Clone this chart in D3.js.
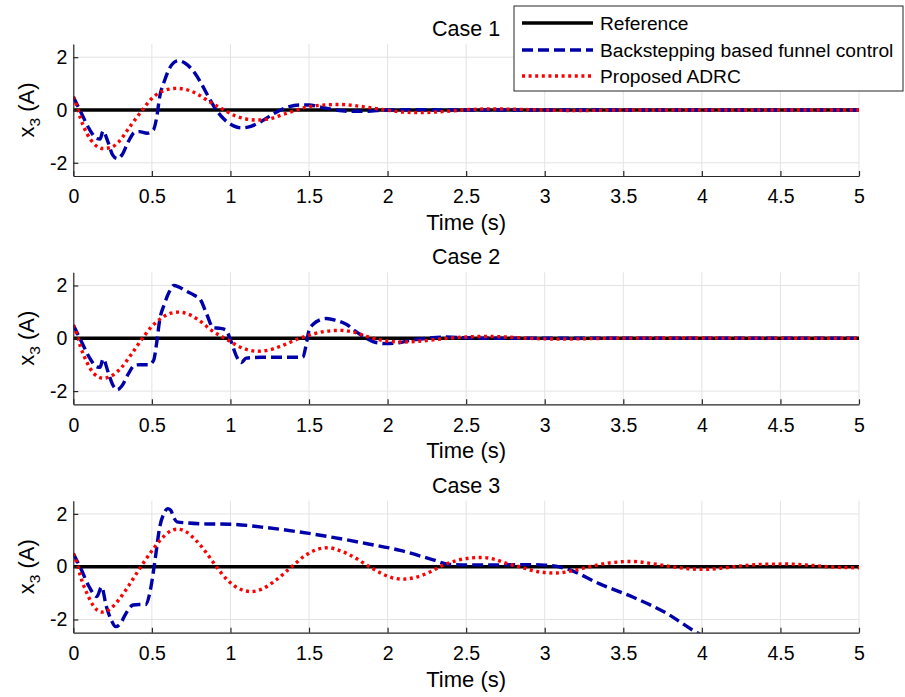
<!DOCTYPE html>
<html>
<head>
<meta charset="utf-8">
<script src="https://cdn.jsdelivr.net/npm/d3@7/dist/d3.min.js"></script>
<style>
  html, body { margin: 0; padding: 0; background: #fff; }
  svg { display: block; font-family: "Liberation Sans", Arial, Helvetica, sans-serif; }
</style>
</head>
<body>
<svg id="chart" width="905" height="697"></svg>
<script>
// x3 current response (A) over time (s) for three test cases
const caseTitles = ["Case 1", "Case 2", "Case 3"];
const seriesNames = ["Reference", "Backstepping based funnel control", "Proposed ADRC"];
const xTicks = [0, 0.5, 1, 1.5, 2, 2.5, 3, 3.5, 4, 4.5, 5];
const xTickLabels = ["0", "0.5", "1", "1.5", "2", "2.5", "3", "3.5", "4", "4.5", "5"];
const yTicks = [-2, 0, 2];
const yTickLabels = ["-2", "0", "2"];

const referenceCurve = [[0, 0], [5, 0]];

const case1Funnel = [
  [0, 0.5], [0.05, -0.1], [0.1, -0.7], [0.15, -1.08], [0.17, -1.1], [0.19, -0.8], [0.22, -1.2],
  [0.25, -1.7], [0.28, -1.84], [0.31, -1.7], [0.35, -1.2], [0.39, -0.85], [0.42, -0.82],
  [0.47, -0.88], [0.51, -0.75], [0.53, -0.3], [0.55, 0.5], [0.58, 1.1], [0.61, 1.55],
  [0.64, 1.8], [0.67, 1.87], [0.71, 1.78], [0.76, 1.5], [0.81, 1.05], [0.86, 0.5], [0.91, 0],
  [0.96, -0.35], [1.02, -0.6], [1.07, -0.68], [1.13, -0.62], [1.2, -0.42], [1.28, -0.12],
  [1.36, 0.1], [1.44, 0.19], [1.5, 0.19], [1.58, 0.1], [1.66, 0.01], [1.75, -0.05],
  [1.85, -0.05], [2.0, 0], [2.2, 0.01], [2.5, 0], [5, 0]
];
const case1Adrc = [
  [0, 0.5], [0.02, 0.2], [0.045, -0.3], [0.087, -0.89], [0.13, -1.27], [0.19, -1.46],
  [0.24, -1.42], [0.29, -1.2], [0.36, -0.63], [0.44, 0], [0.49, 0.38], [0.55, 0.66],
  [0.61, 0.79], [0.66, 0.82], [0.72, 0.77], [0.79, 0.6], [0.87, 0.3], [0.96, 0],
  [1.03, -0.22], [1.1, -0.34], [1.17, -0.38], [1.25, -0.33], [1.33, -0.18], [1.41, -0.02],
  [1.48, 0.1], [1.57, 0.18], [1.7, 0.21], [1.85, 0.12], [1.99, 0], [2.1, -0.08],
  [2.21, -0.1], [2.35, -0.06], [2.5, 0.01], [2.65, 0.04], [2.8, 0.03], [3.0, 0],
  [3.2, -0.02], [3.5, 0], [4, 0], [5, 0]
];

const case2Funnel = [
  [0, 0.5], [0.05, -0.1], [0.1, -0.7], [0.15, -1.08], [0.17, -1.1], [0.19, -0.78], [0.22, -1.25],
  [0.25, -1.75], [0.28, -1.95], [0.31, -1.8], [0.35, -1.35], [0.39, -1.02], [0.43, -1.0],
  [0.48, -1.0], [0.51, -0.85], [0.53, -0.2], [0.55, 0.7], [0.58, 1.3], [0.61, 1.75],
  [0.64, 2.0], [0.67, 1.95], [0.72, 1.78], [0.77, 1.63], [0.81, 1.45], [0.85, 0.9],
  [0.89, 0.4], [0.93, 0.38], [0.97, 0.32], [1.0, -0.05], [1.04, -0.7], [1.07, -0.92],
  [1.1, -0.75], [1.2, -0.72], [1.35, -0.72], [1.46, -0.72], [1.48, -0.3], [1.5, 0.3],
  [1.53, 0.55], [1.57, 0.7], [1.61, 0.75], [1.67, 0.68], [1.74, 0.52], [1.8, 0.25],
  [1.85, 0.05], [1.92, -0.15], [1.99, -0.2], [2.07, -0.17], [2.15, -0.07], [2.25, 0],
  [2.37, 0.05], [2.5, 0.02], [2.7, 0], [5, 0]
];
const case2Adrc = [
  [0, 0.5], [0.02, 0.2], [0.045, -0.3], [0.09, -0.95], [0.13, -1.33], [0.19, -1.51],
  [0.25, -1.4], [0.3, -1.15], [0.37, -0.6], [0.44, 0], [0.5, 0.45], [0.57, 0.8],
  [0.62, 0.95], [0.67, 0.99], [0.73, 0.92], [0.8, 0.68], [0.88, 0.3], [0.98, -0.05],
  [1.05, -0.3], [1.12, -0.45], [1.17, -0.49], [1.24, -0.45], [1.32, -0.3], [1.44, 0],
  [1.52, 0.15], [1.6, 0.26], [1.7, 0.3], [1.78, 0.24], [1.88, 0.05], [1.97, -0.08],
  [2.1, -0.14], [2.22, -0.1], [2.35, -0.02], [2.5, 0.05], [2.62, 0.07], [2.75, 0.05],
  [2.9, 0], [3.1, -0.03], [3.4, 0], [3.7, 0.01], [5, 0]
];

const case3Funnel = [
  [0, 0.5], [0.05, -0.1], [0.1, -0.75], [0.15, -1.13], [0.18, -0.77], [0.21, -1.5],
  [0.24, -2.0], [0.27, -2.27], [0.3, -2.15], [0.34, -1.72], [0.38, -1.45], [0.42, -1.43],
  [0.46, -1.43], [0.49, -0.9], [0.52, 0.24], [0.55, 1.5], [0.58, 2.05], [0.6, 2.2],
  [0.62, 2.14], [0.64, 1.85], [0.66, 1.7], [0.72, 1.66], [0.85, 1.62], [1.0, 1.61],
  [1.2, 1.5], [1.5, 1.26], [1.87, 0.87], [2.08, 0.62], [2.29, 0.26], [2.39, 0.09],
  [2.5, 0.07], [2.7, 0.07], [2.93, 0.08], [3.0, 0.06], [3.07, 0.02], [3.14, -0.08],
  [3.35, -0.65], [3.56, -1.15], [3.78, -1.78], [3.96, -2.47], [4.0, -2.6]
];
const case3Adrc = [
  [0, 0.5], [0.02, 0.2], [0.045, -0.35], [0.09, -1.05], [0.13, -1.5], [0.18, -1.72],
  [0.23, -1.62], [0.29, -1.25], [0.36, -0.65], [0.43, 0], [0.5, 0.6], [0.56, 1.05],
  [0.61, 1.32], [0.66, 1.42], [0.71, 1.35], [0.78, 1.0], [0.85, 0.5], [0.91, 0],
  [0.98, -0.5], [1.05, -0.82], [1.13, -0.94], [1.2, -0.85], [1.28, -0.55], [1.39, 0],
  [1.47, 0.4], [1.55, 0.65], [1.62, 0.72], [1.7, 0.6], [1.79, 0.35], [1.87, 0.05],
  [1.96, -0.25], [2.03, -0.42], [2.1, -0.47], [2.18, -0.4], [2.27, -0.2], [2.35, 0.05],
  [2.45, 0.25], [2.53, 0.33], [2.6, 0.35], [2.68, 0.28], [2.76, 0.12], [2.84, 0],
  [2.95, -0.18], [3.07, -0.24], [3.18, -0.15], [3.3, 0.02], [3.42, 0.15], [3.56, 0.2],
  [3.68, 0.12], [3.81, 0], [3.92, -0.08], [4.01, -0.1], [4.12, -0.06], [4.25, 0.03],
  [4.4, 0.09], [4.54, 0.1], [4.7, 0.05], [4.85, -0.02], [5, -0.04]
];

const funnelByCase = [case1Funnel, case2Funnel, case3Funnel];
const adrcByCase = [case1Adrc, case2Adrc, case3Adrc];

// layout
const plotLeft = 73.3, plotRight = 859;
const panelTops = [44, 272.3, 500.7];
const panelHeight = 132;
const axisColor = "#262626";
const gridColor = "#e3e3e3";
const styles = [
  { color: "#000000", width: 3.6, dash: null },
  { color: "#0000aa", width: 3.4, dash: "11,5" },
  { color: "#ff0000", width: 3.4, dash: "3,3.6" }
];

const svg = d3.select("#chart");
const x = d3.scaleLinear().domain([0, 5]).range([plotLeft, plotRight]);

panelTops.forEach((top, i) => {
  const bottom = top + panelHeight;
  const y = d3.scaleLinear().domain([-2.5, 2.5]).range([bottom, top]);
  const g = svg.append("g");

  // grid
  g.append("g").selectAll("line").data(xTicks).join("line")
    .attr("x1", d => x(d)).attr("x2", d => x(d))
    .attr("y1", top).attr("y2", bottom)
    .attr("stroke", gridColor).attr("stroke-width", 1);
  g.append("g").selectAll("line").data(yTicks).join("line")
    .attr("x1", plotLeft).attr("x2", plotRight)
    .attr("y1", d => y(d)).attr("y2", d => y(d))
    .attr("stroke", gridColor).attr("stroke-width", 1);

  // curves, clipped to the plot box
  const clipId = "clip" + i;
  svg.append("clipPath").attr("id", clipId).append("rect")
    .attr("x", plotLeft).attr("y", top)
    .attr("width", plotRight - plotLeft).attr("height", panelHeight);

  const line = d3.line().x(d => x(d[0])).y(d => y(d[1])).curve(d3.curveMonotoneX);
  const curves = [referenceCurve, funnelByCase[i], adrcByCase[i]];
  const cg = g.append("g").attr("clip-path", `url(#${clipId})`);
  curves.forEach((data, k) => {
    cg.append("path").datum(data)
      .attr("d", line)
      .attr("fill", "none")
      .attr("stroke", styles[k].color)
      .attr("stroke-width", styles[k].width)
      .attr("stroke-dasharray", styles[k].dash)
      .attr("stroke-linejoin", "round");
  });

  // axes
  const xAxis = d3.axisBottom(x).tickValues(xTicks)
    .tickFormat((d, j) => xTickLabels[j])
    .tickSizeInner(-5).tickSizeOuter(0).tickPadding(13.5);
  const yAxis = d3.axisLeft(y).tickValues(yTicks)
    .tickFormat((d, j) => yTickLabels[j])
    .tickSizeInner(-5).tickSizeOuter(0).tickPadding(6);

  const xg = g.append("g").attr("transform", `translate(0,${bottom})`).call(xAxis);
  const yg = g.append("g").attr("transform", `translate(${plotLeft},0)`).call(yAxis);
  [xg, yg].forEach(a => {
    a.select(".domain").attr("stroke", axisColor).attr("stroke-width", 1.2);
    a.selectAll(".tick line").attr("stroke", axisColor).attr("stroke-width", 1.2);
    a.selectAll(".tick text").attr("fill", "#000").attr("font-size", 19.5)
      .attr("font-family", "'Liberation Sans', Arial, Helvetica, sans-serif");
  });

  // title
  g.append("text")
    .attr("x", (plotLeft + plotRight) / 2).attr("y", top - 8)
    .attr("text-anchor", "middle").attr("font-size", 21.5).attr("fill", "#000")
    .text(caseTitles[i]);

  // x label
  g.append("text")
    .attr("x", (plotLeft + plotRight) / 2).attr("y", bottom + 54)
    .attr("text-anchor", "middle").attr("font-size", 22).attr("fill", "#000")
    .text("Time (s)");

  // y label with subscript
  const yl = g.append("text")
    .attr("transform", `translate(34,${top + panelHeight / 2}) rotate(-90)`)
    .attr("text-anchor", "middle").attr("font-size", 22).attr("fill", "#000");
  yl.append("tspan").text("x");
  yl.append("tspan").attr("font-size", 15.5).attr("dy", 6).text("3");
  yl.append("tspan").attr("dy", -6).text(" (A)");
});

// legend
const legend = svg.append("g");
legend.append("rect")
  .attr("x", 514).attr("y", 6).attr("width", 389).attr("height", 85)
  .attr("fill", "#fff").attr("stroke", axisColor).attr("stroke-width", 1);
const rowY = [23, 50, 76];
seriesNames.forEach((name, k) => {
  legend.append("line")
    .attr("x1", 522).attr("x2", 593).attr("y1", rowY[k]).attr("y2", rowY[k])
    .attr("stroke", styles[k].color).attr("stroke-width", styles[k].width)
    .attr("stroke-dasharray", styles[k].dash);
  legend.append("text")
    .attr("x", 600).attr("y", rowY[k] + 7)
    .attr("font-size", 19.2).attr("fill", "#000")
    .text(name);
});
</script>
</body>
</html>
